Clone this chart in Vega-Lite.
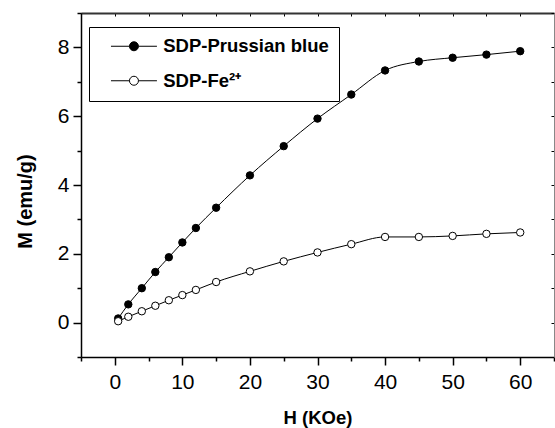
{
  "$schema": "https://vega.github.io/schema/vega-lite/v6.json",
  "width": 473,
  "height": 344,
  "autosize": {"type": "none"},
  "padding": {"left": 81, "top": 13, "right": 1, "bottom": 71},
  "config": {
    "view": {"stroke": null},
    "font": "Liberation Sans",
    "axis": {"grid": false, "labelOverlap": false, "labelFlush": false}
  },
  "data": {
    "values": [
      {"H": 0.5, "M": 0.12, "series": "SDP-Prussian blue"},
      {"H": 2, "M": 0.53, "series": "SDP-Prussian blue"},
      {"H": 4, "M": 1.0, "series": "SDP-Prussian blue"},
      {"H": 6, "M": 1.47, "series": "SDP-Prussian blue"},
      {"H": 8, "M": 1.9, "series": "SDP-Prussian blue"},
      {"H": 10, "M": 2.33, "series": "SDP-Prussian blue"},
      {"H": 12, "M": 2.75, "series": "SDP-Prussian blue"},
      {"H": 15, "M": 3.34, "series": "SDP-Prussian blue"},
      {"H": 20, "M": 4.28, "series": "SDP-Prussian blue"},
      {"H": 25, "M": 5.13, "series": "SDP-Prussian blue"},
      {"H": 30, "M": 5.93, "series": "SDP-Prussian blue"},
      {"H": 35, "M": 6.63, "series": "SDP-Prussian blue"},
      {"H": 40, "M": 7.33, "series": "SDP-Prussian blue"},
      {"H": 45, "M": 7.59, "series": "SDP-Prussian blue"},
      {"H": 50, "M": 7.7, "series": "SDP-Prussian blue"},
      {"H": 55, "M": 7.79, "series": "SDP-Prussian blue"},
      {"H": 60, "M": 7.89, "series": "SDP-Prussian blue"},
      {"H": 0.5, "M": 0.04, "series": "SDP-Fe²⁺"},
      {"H": 2, "M": 0.17, "series": "SDP-Fe²⁺"},
      {"H": 4, "M": 0.33, "series": "SDP-Fe²⁺"},
      {"H": 6, "M": 0.49, "series": "SDP-Fe²⁺"},
      {"H": 8, "M": 0.65, "series": "SDP-Fe²⁺"},
      {"H": 10, "M": 0.8, "series": "SDP-Fe²⁺"},
      {"H": 12, "M": 0.95, "series": "SDP-Fe²⁺"},
      {"H": 15, "M": 1.18, "series": "SDP-Fe²⁺"},
      {"H": 20, "M": 1.49, "series": "SDP-Fe²⁺"},
      {"H": 25, "M": 1.78, "series": "SDP-Fe²⁺"},
      {"H": 30, "M": 2.04, "series": "SDP-Fe²⁺"},
      {"H": 35, "M": 2.28, "series": "SDP-Fe²⁺"},
      {"H": 40, "M": 2.49, "series": "SDP-Fe²⁺"},
      {"H": 45, "M": 2.49, "series": "SDP-Fe²⁺"},
      {"H": 50, "M": 2.52, "series": "SDP-Fe²⁺"},
      {"H": 55, "M": 2.58, "series": "SDP-Fe²⁺"},
      {"H": 60, "M": 2.62, "series": "SDP-Fe²⁺"}
    ]
  },
  "layer": [
    {
      "mark": {"type": "line", "color": "black", "strokeWidth": 1, "interpolate": "monotone"},
      "encoding": {
        "x": {
          "field": "H", "type": "quantitative",
          "scale": {"domain": [-5, 65], "nice": false, "zero": false},
          "axis": {
            "orient": "top", "title": null, "labels": false,
            "values": [-5, 0, 5, 10, 15, 20, 25, 30, 35, 40, 45, 50, 55, 60, 65],
            "tickSize": -3, "tickColor": "black", "tickWidth": 1,
            "domainColor": "#333333", "domainWidth": 2
          }
        },
        "y": {
          "field": "M", "type": "quantitative",
          "scale": {"domain": [-1, 9], "nice": false, "zero": false},
          "axis": {
            "orient": "right", "title": null, "labels": false,
            "values": [-1, 0, 1, 2, 3, 4, 5, 6, 7, 8, 9],
            "tickSize": -3, "tickColor": "black", "tickWidth": 1,
            "domainColor": "#888888", "domainWidth": 1
          }
        },
        "detail": {"field": "series"}
      }
    },
    {
      "mark": {"type": "circle", "stroke": "black", "strokeWidth": 1, "size": 55, "opacity": 1},
      "encoding": {
        "x": {
          "field": "H", "type": "quantitative",
          "axis": {
            "orient": "bottom", "title": "H (KOe)",
            "values": [-5, 0, 5, 10, 15, 20, 25, 30, 35, 40, 45, 50, 55, 60, 65],
            "labelExpr": "datum.value % 10 == 0 ? datum.label : ''",
            "tickSize": {"condition": {"test": "datum.value % 10 == 0", "value": 8}, "value": 4},
            "tickColor": "black", "tickWidth": 1.5,
            "domainColor": "black", "domainWidth": 1.5,
            "labelFontSize": 21, "labelColor": "black", "labelPadding": 6,
            "titleFontSize": 18.5, "titleFontWeight": "bold", "titleColor": "black", "titlePadding": 16
          }
        },
        "y": {
          "field": "M", "type": "quantitative",
          "axis": {
            "orient": "left", "title": "M (emu/g)",
            "values": [-1, 0, 1, 2, 3, 4, 5, 6, 7, 8, 9],
            "labelExpr": "datum.value % 2 == 0 ? datum.label : ''",
            "tickSize": {"condition": {"test": "datum.value % 2 == 0", "value": 8}, "value": 4},
            "tickColor": "black", "tickWidth": 1.5,
            "domainColor": "black", "domainWidth": 1.5,
            "labelFontSize": 21, "labelColor": "black", "labelPadding": 4,
            "titleFontSize": 20, "titleFontWeight": "bold", "titleColor": "black", "titlePadding": 22,
            "titleY": 188
          }
        },
        "fill": {
          "field": "series", "type": "nominal",
          "scale": {"domain": ["SDP-Prussian blue", "SDP-Fe²⁺"], "range": ["black", "white"]},
          "legend": {
            "title": null, "orient": "none", "legendX": 8, "legendY": 14,
            "strokeColor": "black", "fillColor": "white", "padding": 10,
            "symbolType": "M-3.83,0H-0.75M0.75,0H3.83M-0.75,0A0.75,0.75,0,1,0,0.75,0A0.75,0.75,0,1,0,-0.75,0Z",
            "symbolSize": 144, "symbolOffset": 25.7, "symbolStrokeColor": "black", "symbolStrokeWidth": 1,
            "labelFont": "Liberation Sans", "labelFontSize": 18.5, "labelFontWeight": "bold", "labelLimit": 0,
            "labelColor": "black", "labelOffset": 20, "rowPadding": 15.5
          }
        }
      }
    }
  ],
  "resolve": {"axis": {"x": "independent", "y": "independent"}}
}
